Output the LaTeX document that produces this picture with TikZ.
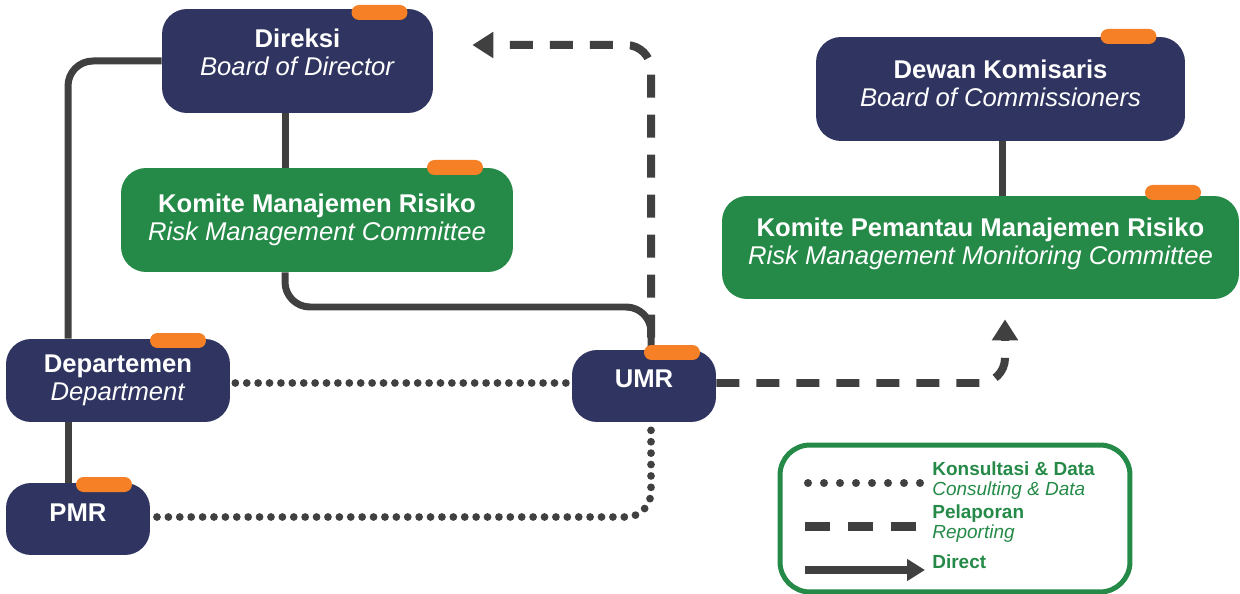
\documentclass[tikz,border=0pt]{standalone}
\usepackage{fontspec}
\setmainfont{Liberation Sans}
\usetikzlibrary{arrows.meta,calc}
\definecolor{navy}{HTML}{2F3560}
\definecolor{rmgreen}{HTML}{258A48}
\definecolor{taborange}{HTML}{F58025}
\definecolor{linegray}{HTML}{404040}
\begin{document}
\begin{tikzpicture}[x=0.02cm,y=-0.02cm,
  box/.style={rectangle,rounded corners=0.5cm,fill=navy,inner sep=0pt},
  gbox/.style={box,fill=rmgreen},
  tab/.style={rectangle,rounded corners=0.15cm,fill=taborange,minimum width=1.12cm,minimum height=0.3cm,inner sep=0pt},
  title/.style={text=white,align=center,inner sep=0pt,font=\fontsize{14.6}{16}\selectfont},
  conn/.style={draw=linegray,line width=0.14cm,rounded corners=0.5cm},
  report/.style={conn,line width=0.16cm,dash pattern=on 0.46cm off 0.34cm},
  consult/.style={conn,line width=0.155cm,line cap=round,dash pattern=on 0pt off 0.228cm},
  tip/.style={-{Triangle[length=0.42cm,width=0.5cm]}},
  legtxt/.style={text=rmgreen,anchor=west,align=left,inner sep=0pt,font=\fontsize{10.8}{11.4}\selectfont}]
  \useasboundingbox (0,0) rectangle (1240,594);
  % boxes
  \node[box,minimum width=5.42cm,minimum height=2.08cm] (direksi) at (297.5,61) {};
  \node[gbox,minimum width=7.84cm,minimum height=2.08cm] (kmr) at (317,220) {};
  \node[box,minimum width=7.38cm,minimum height=2.08cm] (dewan) at (1000.5,89) {};
  \node[gbox,minimum width=10.34cm,minimum height=2.06cm] (kpmr) at (980.5,247.5) {};
  \node[box,minimum width=4.48cm,minimum height=1.66cm] (dept) at (118,380.5) {};
  \node[box,minimum width=2.88cm,minimum height=1.44cm] (pmr) at (78,519) {};
  \node[box,minimum width=2.88cm,minimum height=1.44cm] (umr) at (644,386) {};
  \node[title] (direksi-t) at ([yshift=0.18cm]direksi.center) {\textbf{Direksi}\\\textit{Board of Director}};
  \node[title] (kmr-t) at (kmr.center) {\textbf{Komite Manajemen Risiko}\\\textit{Risk Management Committee}};
  \node[title] (dewan-t) at ([yshift=0.12cm]dewan.center) {\textbf{Dewan Komisaris}\\\textit{Board of Commissioners}};
  \node[title] (kpmr-t) at ([yshift=0.08cm]kpmr.center) {\textbf{Komite Pemantau Manajemen Risiko}\\\textit{Risk Management Monitoring Committee}};
  \node[title] (dept-t) at (dept.center) {\textbf{Departemen}\\\textit{Department}};
  \node[title] (pmr-t) at ([yshift=0.12cm]pmr.center) {\textbf{PMR}};
  \node[title] (umr-t) at ([yshift=0.14cm]umr.center) {\textbf{UMR}};
  % connectors
  \coordinate (spine) at (285,0);
  \coordinate (umrx) at (651,0);
  \coordinate (deptx) at (68,0);
  \coordinate (dotrow) at (0,383);
  \draw[conn] (direksi.west) -| (dept.north -| deptx);
  \draw[conn] (direksi.south -| spine) -- (kmr.north -| spine);
  \draw[conn] (kmr.south -| spine) -- (spine |- 0,307) -- (umrx |- 0,307) -- (umr.north -| umrx);
  \draw[conn] (dept.south -| deptx) -- (pmr.north -| deptx);
  \draw[conn] (dewan.south -| 1002,0) -- (kpmr.north -| 1002,0);
  \draw[report,tip] ($(umr.north -| umrx)+(0,-12)$) |- ($(direksi.east)+(39,-16)$);
  \draw[report,tip] (umr.east |- dotrow) -| ($(kpmr.south)+(24.5,20)$);
  \draw[consult] ($(dept.east |- dotrow)+(5,0)$) -- (umr.west |- dotrow);
  \draw[consult] ($(umr.south -| umrx)+(0,8)$) |- ($(pmr.east)+(3,-2)$);
  % tabs
  \node[tab] (direksi-tab) at (379.5,12.5) {};
  \node[tab] (kmr-tab) at (455,167.5) {};
  \node[tab] (dewan-tab) at (1128.5,36.5) {};
  \node[tab] (kpmr-tab) at (1173,192.5) {};
  \node[tab] (dept-tab) at (178,340.5) {};
  \node[tab] (pmr-tab) at (104,484.5) {};
  \node[tab] (umr-tab) at (672,352.5) {};
  % legend
  \node[draw=rmgreen,line width=0.1cm,rounded corners=0.6cm,minimum width=7cm,minimum height=2.94cm,inner sep=0pt] (legend) at (955,518.5) {};
  \coordinate (leg-dot-a) at (808,483);
  \coordinate (leg-dot-b) at (920,483);
  \coordinate (leg-dash-a) at (805,526);
  \coordinate (leg-dash-b) at (925,526);
  \coordinate (leg-dir-a) at (805,570);
  \coordinate (leg-dir-b) at (925,570);
  \draw[consult,line width=0.16cm,dash pattern=on 0pt off 0.32cm] (leg-dot-a) -- (leg-dot-b);
  \draw[conn,line width=0.18cm,dash pattern=on 0.5cm off 0.36cm] (leg-dash-a) -- (leg-dash-b);
  \draw[conn,line width=0.16cm,-{Triangle[length=0.36cm,width=0.42cm]}] (leg-dir-a) -- (leg-dir-b);
  \node[legtxt] (leg-dot-t) at (932,481) {\textbf{Konsultasi \& Data}\\\textit{Consulting \& Data}};
  \node[legtxt] (leg-dash-t) at (932,524) {\textbf{Pelaporan}\\\textit{Reporting}};
  \node[legtxt] (leg-dir-t) at (932,562) {\textbf{Direct}};
\end{tikzpicture}
\end{document}
